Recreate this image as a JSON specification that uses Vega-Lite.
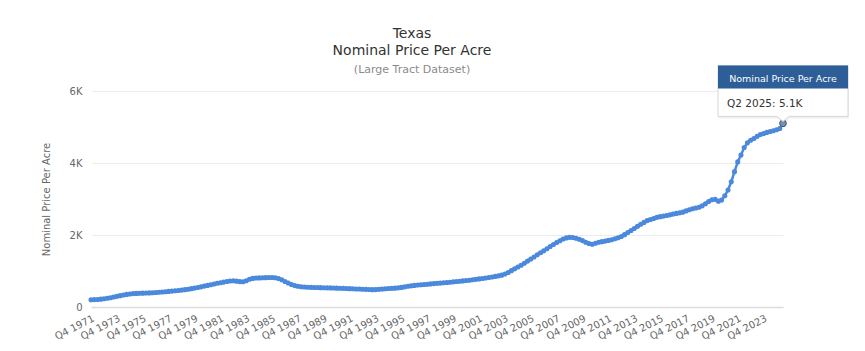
{
  "$schema": "https://vega.github.io/schema/vega-lite/v6.json",
  "width": 692,
  "height": 216,
  "autosize": "none",
  "padding": {"left": 91, "top": 91, "right": 82, "bottom": 44},
  "background": "white",
  "config": {
    "font": "DejaVu Sans",
    "view": {"stroke": null}
  },
  "title": {
    "text": ["Texas", "Nominal Price Per Acre"],
    "subtitle": "(Large Tract Dataset)",
    "fontSize": 14,
    "fontWeight": "normal",
    "color": "#333333",
    "lineHeight": 17,
    "subtitleFontSize": 11,
    "subtitleColor": "#8a8a8a",
    "subtitlePadding": 6,
    "anchor": "middle",
    "frame": "group",
    "dx": -25,
    "offset": -12
  },
  "data": {"values": [
    {"q":"Q4 1971","v":200},{"q":"Q1 1972","v":205},{"q":"Q2 1972","v":210},{"q":"Q3 1972","v":218},
    {"q":"Q4 1972","v":228},{"q":"Q1 1973","v":242},{"q":"Q2 1973","v":258},{"q":"Q3 1973","v":276},
    {"q":"Q4 1973","v":296},{"q":"Q1 1974","v":315},{"q":"Q2 1974","v":333},{"q":"Q3 1974","v":350},
    {"q":"Q4 1974","v":363},{"q":"Q1 1975","v":372},{"q":"Q2 1975","v":378},{"q":"Q3 1975","v":382},
    {"q":"Q4 1975","v":385},{"q":"Q1 1976","v":388},{"q":"Q2 1976","v":392},{"q":"Q3 1976","v":397},
    {"q":"Q4 1976","v":402},{"q":"Q1 1977","v":410},{"q":"Q2 1977","v":417},{"q":"Q3 1977","v":425},
    {"q":"Q4 1977","v":433},{"q":"Q1 1978","v":442},{"q":"Q2 1978","v":451},{"q":"Q3 1978","v":460},
    {"q":"Q4 1978","v":470},{"q":"Q1 1979","v":482},{"q":"Q2 1979","v":495},{"q":"Q3 1979","v":510},
    {"q":"Q4 1979","v":525},{"q":"Q1 1980","v":542},{"q":"Q2 1980","v":560},{"q":"Q3 1980","v":580},
    {"q":"Q4 1980","v":600},{"q":"Q1 1981","v":620},{"q":"Q2 1981","v":640},{"q":"Q3 1981","v":658},
    {"q":"Q4 1981","v":675},{"q":"Q1 1982","v":692},{"q":"Q2 1982","v":708},{"q":"Q3 1982","v":722},
    {"q":"Q4 1982","v":728},{"q":"Q1 1983","v":718},{"q":"Q2 1983","v":705},{"q":"Q3 1983","v":700},
    {"q":"Q4 1983","v":730},{"q":"Q1 1984","v":770},{"q":"Q2 1984","v":795},{"q":"Q3 1984","v":805},
    {"q":"Q4 1984","v":808},{"q":"Q1 1985","v":812},{"q":"Q2 1985","v":815},{"q":"Q3 1985","v":818},
    {"q":"Q4 1985","v":820},{"q":"Q1 1986","v":812},{"q":"Q2 1986","v":790},{"q":"Q3 1986","v":755},
    {"q":"Q4 1986","v":710},{"q":"Q1 1987","v":665},{"q":"Q2 1987","v":625},{"q":"Q3 1987","v":595},
    {"q":"Q4 1987","v":575},{"q":"Q1 1988","v":562},{"q":"Q2 1988","v":556},{"q":"Q3 1988","v":550},
    {"q":"Q4 1988","v":546},{"q":"Q1 1989","v":542},{"q":"Q2 1989","v":540},{"q":"Q3 1989","v":537},
    {"q":"Q4 1989","v":535},{"q":"Q1 1990","v":532},{"q":"Q2 1990","v":530},{"q":"Q3 1990","v":527},
    {"q":"Q4 1990","v":524},{"q":"Q1 1991","v":521},{"q":"Q2 1991","v":518},{"q":"Q3 1991","v":514},
    {"q":"Q4 1991","v":510},{"q":"Q1 1992","v":506},{"q":"Q2 1992","v":502},{"q":"Q3 1992","v":498},
    {"q":"Q4 1992","v":494},{"q":"Q1 1993","v":490},{"q":"Q2 1993","v":486},{"q":"Q3 1993","v":482},
    {"q":"Q4 1993","v":484},{"q":"Q1 1994","v":490},{"q":"Q2 1994","v":497},{"q":"Q3 1994","v":505},
    {"q":"Q4 1994","v":512},{"q":"Q1 1995","v":518},{"q":"Q2 1995","v":524},{"q":"Q3 1995","v":532},
    {"q":"Q4 1995","v":545},{"q":"Q1 1996","v":560},{"q":"Q2 1996","v":575},{"q":"Q3 1996","v":588},
    {"q":"Q4 1996","v":600},{"q":"Q1 1997","v":610},{"q":"Q2 1997","v":618},{"q":"Q3 1997","v":626},
    {"q":"Q4 1997","v":634},{"q":"Q1 1998","v":642},{"q":"Q2 1998","v":650},{"q":"Q3 1998","v":657},
    {"q":"Q4 1998","v":664},{"q":"Q1 1999","v":672},{"q":"Q2 1999","v":680},{"q":"Q3 1999","v":689},
    {"q":"Q4 1999","v":698},{"q":"Q1 2000","v":707},{"q":"Q2 2000","v":716},{"q":"Q3 2000","v":725},
    {"q":"Q4 2000","v":735},{"q":"Q1 2001","v":745},{"q":"Q2 2001","v":756},{"q":"Q3 2001","v":768},
    {"q":"Q4 2001","v":780},{"q":"Q1 2002","v":793},{"q":"Q2 2002","v":806},{"q":"Q3 2002","v":820},
    {"q":"Q4 2002","v":835},{"q":"Q1 2003","v":850},{"q":"Q2 2003","v":865},{"q":"Q3 2003","v":885},
    {"q":"Q4 2003","v":915},{"q":"Q1 2004","v":960},{"q":"Q2 2004","v":1010},{"q":"Q3 2004","v":1060},
    {"q":"Q4 2004","v":1110},{"q":"Q1 2005","v":1160},{"q":"Q2 2005","v":1215},{"q":"Q3 2005","v":1275},
    {"q":"Q4 2005","v":1330},{"q":"Q1 2006","v":1390},{"q":"Q2 2006","v":1450},{"q":"Q3 2006","v":1505},
    {"q":"Q4 2006","v":1560},{"q":"Q1 2007","v":1620},{"q":"Q2 2007","v":1680},{"q":"Q3 2007","v":1735},
    {"q":"Q4 2007","v":1790},{"q":"Q1 2008","v":1840},{"q":"Q2 2008","v":1890},{"q":"Q3 2008","v":1920},
    {"q":"Q4 2008","v":1935},{"q":"Q1 2009","v":1930},{"q":"Q2 2009","v":1910},{"q":"Q3 2009","v":1880},
    {"q":"Q4 2009","v":1845},{"q":"Q1 2010","v":1800},{"q":"Q2 2010","v":1765},{"q":"Q3 2010","v":1745},
    {"q":"Q4 2010","v":1770},{"q":"Q1 2011","v":1800},{"q":"Q2 2011","v":1815},{"q":"Q3 2011","v":1830},
    {"q":"Q4 2011","v":1850},{"q":"Q1 2012","v":1870},{"q":"Q2 2012","v":1895},{"q":"Q3 2012","v":1925},
    {"q":"Q4 2012","v":1960},{"q":"Q1 2013","v":2010},{"q":"Q2 2013","v":2070},{"q":"Q3 2013","v":2125},
    {"q":"Q4 2013","v":2180},{"q":"Q1 2014","v":2240},{"q":"Q2 2014","v":2300},{"q":"Q3 2014","v":2350},
    {"q":"Q4 2014","v":2400},{"q":"Q1 2015","v":2430},{"q":"Q2 2015","v":2460},{"q":"Q3 2015","v":2490},
    {"q":"Q4 2015","v":2510},{"q":"Q1 2016","v":2525},{"q":"Q2 2016","v":2540},{"q":"Q3 2016","v":2560},
    {"q":"Q4 2016","v":2580},{"q":"Q1 2017","v":2600},{"q":"Q2 2017","v":2615},{"q":"Q3 2017","v":2635},
    {"q":"Q4 2017","v":2670},{"q":"Q1 2018","v":2700},{"q":"Q2 2018","v":2730},{"q":"Q3 2018","v":2750},
    {"q":"Q4 2018","v":2770},{"q":"Q1 2019","v":2810},{"q":"Q2 2019","v":2870},{"q":"Q3 2019","v":2930},
    {"q":"Q4 2019","v":2980},{"q":"Q1 2020","v":2990},{"q":"Q2 2020","v":2940},{"q":"Q3 2020","v":2970},
    {"q":"Q4 2020","v":3090},{"q":"Q1 2021","v":3250},{"q":"Q2 2021","v":3480},{"q":"Q3 2021","v":3760},
    {"q":"Q4 2021","v":4030},{"q":"Q1 2022","v":4220},{"q":"Q2 2022","v":4430},{"q":"Q3 2022","v":4560},
    {"q":"Q4 2022","v":4630},{"q":"Q1 2023","v":4680},{"q":"Q2 2023","v":4740},{"q":"Q3 2023","v":4790},
    {"q":"Q4 2023","v":4820},{"q":"Q1 2024","v":4850},{"q":"Q2 2024","v":4875},{"q":"Q3 2024","v":4895},
    {"q":"Q4 2024","v":4925},{"q":"Q1 2025","v":4960},{"q":"Q2 2025","v":5100}
  ]},
  "encoding": {
    "x": {
      "field": "q", "type": "ordinal", "sort": null,
      "scale": {"type": "point", "padding": 0},
      "axis": {
        "title": null,
        "values": ["Q4 1971","Q4 1973","Q4 1975","Q4 1977","Q4 1979","Q4 1981","Q4 1983","Q4 1985","Q4 1987","Q4 1989","Q4 1991","Q4 1993","Q4 1995","Q4 1997","Q4 1999","Q4 2001","Q4 2003","Q4 2005","Q4 2007","Q4 2009","Q4 2011","Q4 2013","Q4 2015","Q4 2017","Q4 2019","Q4 2021","Q4 2023"],
        "labelAngle": -27,
        "labelAlign": "right",
        "labelBaseline": "top",
        "labelPadding": 6,
        "labelFontSize": 10,
        "labelColor": "#666666",
        "labelOverlap": false,
        "labelBound": false,
        "labelFlush": false,
        "ticks": false,
        "grid": false,
        "domain": true,
        "domainColor": "#dcdcdc",
        "domainWidth": 1.5
      }
    },
    "y": {
      "field": "v", "type": "quantitative",
      "scale": {"domain": [0, 6000], "nice": false},
      "axis": {
        "title": "Nominal Price Per Acre",
        "titleFontSize": 10,
        "titleFontWeight": "normal",
        "titleColor": "#666666",
        "titlePadding": 18,
        "values": [0, 2000, 4000, 6000],
        "labelExpr": "datum.value == 0 ? '0' : (datum.value / 1000) + 'K'",
        "labelFontSize": 10,
        "labelColor": "#666666",
        "labelPadding": 9,
        "ticks": false,
        "domain": false,
        "grid": true,
        "gridColor": "#ececec",
        "gridWidth": 1
      }
    }
  },
  "layer": [
    {
      "mark": {
        "type": "line",
        "color": "#4a89dc",
        "strokeWidth": 2.5,
        "point": {"filled": true, "size": 26, "color": "#4a89dc", "opacity": 1}
      }
    },
    {
      "transform": [{"filter": "datum.q == 'Q2 2025'"}],
      "mark": {"type": "point", "filled": true, "fill": "#6d93c0", "stroke": "#555555", "strokeWidth": 1, "size": 45, "opacity": 1}
    },
    {
      "transform": [{"filter": "datum.q == 'Q2 2025'"}],
      "mark": {
        "type": "point",
        "shape": "M -1 -0.892 L 1 -0.892 L 1 -0.108 L 0.092 -0.108 L 0 -0.03 L -0.092 -0.108 L -1 -0.108 Z",
        "size": 16900,
        "filled": true,
        "fill": "#000000",
        "opacity": 0.06,
        "xOffset": 1,
        "yOffset": 2
      }
    },
    {
      "transform": [{"filter": "datum.q == 'Q2 2025'"}],
      "mark": {
        "type": "point",
        "shape": "M -1 -0.892 L 1 -0.892 L 1 -0.108 L 0.092 -0.108 L 0 -0.03 L -0.092 -0.108 L -1 -0.108 Z",
        "size": 16900,
        "filled": true,
        "fill": "#ffffff",
        "stroke": "#d6d6d6",
        "strokeWidth": 1,
        "opacity": 1
      }
    },
    {
      "transform": [{"filter": "datum.q == 'Q2 2025'"}],
      "mark": {
        "type": "point",
        "shape": "M -1 -0.892 L 1 -0.892 L 1 -0.538 L -1 -0.538 Z",
        "size": 16900,
        "filled": true,
        "fill": "#2d5e98",
        "opacity": 1
      }
    },
    {
      "transform": [{"filter": "datum.q == 'Q2 2025'"}],
      "mark": {
        "type": "text",
        "text": "Nominal Price Per Acre",
        "color": "#ffffff",
        "fontSize": 9.5,
        "align": "center",
        "baseline": "alphabetic",
        "dy": -41
      }
    },
    {
      "transform": [{"filter": "datum.q == 'Q2 2025'"}],
      "mark": {
        "type": "text",
        "text": "Q2 2025: 5.1K",
        "color": "#333333",
        "fontSize": 10.5,
        "align": "left",
        "baseline": "alphabetic",
        "dx": -56,
        "dy": -16
      }
    }
  ]
}
